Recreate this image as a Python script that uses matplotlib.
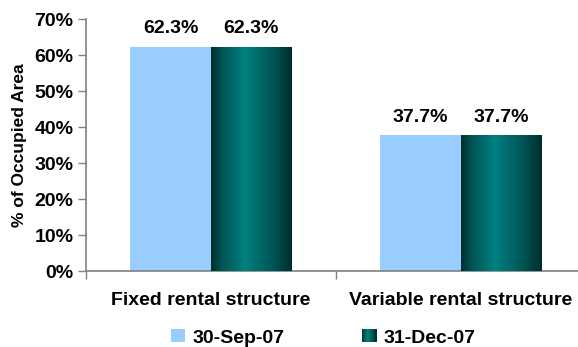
import numpy as np
import matplotlib
matplotlib.use("Agg")
import matplotlib.pyplot as plt
from matplotlib.colors import LinearSegmentedColormap
from matplotlib.patches import Rectangle, Patch
from matplotlib.legend_handler import HandlerBase

categories = ["Fixed rental structure", "Variable rental structure"]
series_names = ["30-Sep-07", "31-Dec-07"]
sep07 = [62.3, 37.7]
dec07 = [62.3, 37.7]
yticks = [0, 10, 20, 30, 40, 50, 60, 70]

light = "#99CCFF"
teal_cmap = LinearSegmentedColormap.from_list(
    "teal", [(0.0, "#002c2c"), (0.12, "#005252"), (0.42, "#008080"),
             (0.8, "#005050"), (1.0, "#002c2c")])

plt.rcParams["font.family"] = ["Liberation Sans", "DejaVu Sans"]
FS = 14

fig = plt.figure(figsize=(5.78, 3.47), dpi=100)
W, H = 578, 347
ax = fig.add_axes([86 / W, (H - 271) / H, 500 / W, 252 / H])

x = np.arange(len(categories))
bw = 0.323
b1 = ax.bar(x - bw / 2, sep07, bw, color=light, zorder=2)
b2 = ax.bar(x + bw / 2, dec07, bw, color="#006666", zorder=2)

grad = np.linspace(0, 1, 256).reshape(1, -1)
for p in b2.patches:
    im = ax.imshow(grad, cmap=teal_cmap, aspect="auto",
                   extent=(p.get_x(), p.get_x() + p.get_width(), 0, p.get_height()),
                   zorder=3, interpolation="bilinear")
    im.set_clip_path(p)

for bars in (b1, b2):
    ax.bar_label(bars, labels=[f"{v:.1f}%" for v in bars.datavalues],
                 padding=7, fontsize=FS, fontweight="bold", zorder=5)

ax.set_xlim(-0.5, 1.5)
ax.set_ylim(0, 70)
ax.set_yticks(yticks)
ax.set_yticklabels([f"{t}%" for t in yticks], fontsize=FS, fontweight="bold")
ax.set_xticks(x)
ax.set_xticklabels(categories, fontsize=FS, fontweight="bold")
ax.tick_params(axis="x", which="major", length=0, pad=15)
ax.set_xticks([-0.5, 0.5, 1.5], minor=True)
ax.tick_params(axis="x", which="minor", length=6, width=1, color="#808080", direction="out")
ax.tick_params(axis="y", length=6, width=1, color="#808080", pad=3)
for s in ("top", "right"):
    ax.spines[s].set_visible(False)
for s in ("left", "bottom"):
    ax.spines[s].set_color("#808080")
    ax.spines[s].set_linewidth(1.2)

ax.set_ylabel("% of Occupied Area", fontsize=12.5, fontweight="bold")
ax.yaxis.set_label_coords(-0.118, 0.5)


class GradHandler(HandlerBase):
    def create_artists(self, legend, orig_handle, xdescent, ydescent,
                       width, height, fontsize, trans):
        n = 14
        arts = []
        for i in range(n):
            r = Rectangle((-xdescent + i * width / n, -ydescent), width / n + 0.05, height,
                          facecolor=teal_cmap((i + 0.5) / n), edgecolor="none",
                          transform=trans)
            arts.append(r)
        return arts


h1 = Patch(facecolor=light, edgecolor="none")
h2 = Patch(facecolor="#006666", edgecolor="none")
leg = fig.legend([h1, h2], series_names, loc="center",
                 bbox_to_anchor=(323 / W, 1 - 338 / H), ncol=2, frameon=False,
                 prop={"size": FS, "weight": "bold"},
                 handlelength=0.75, handleheight=0.65, handletextpad=0.35,
                 columnspacing=4.0, handler_map={h2: GradHandler()})

fig.savefig("out.png", dpi=100)
